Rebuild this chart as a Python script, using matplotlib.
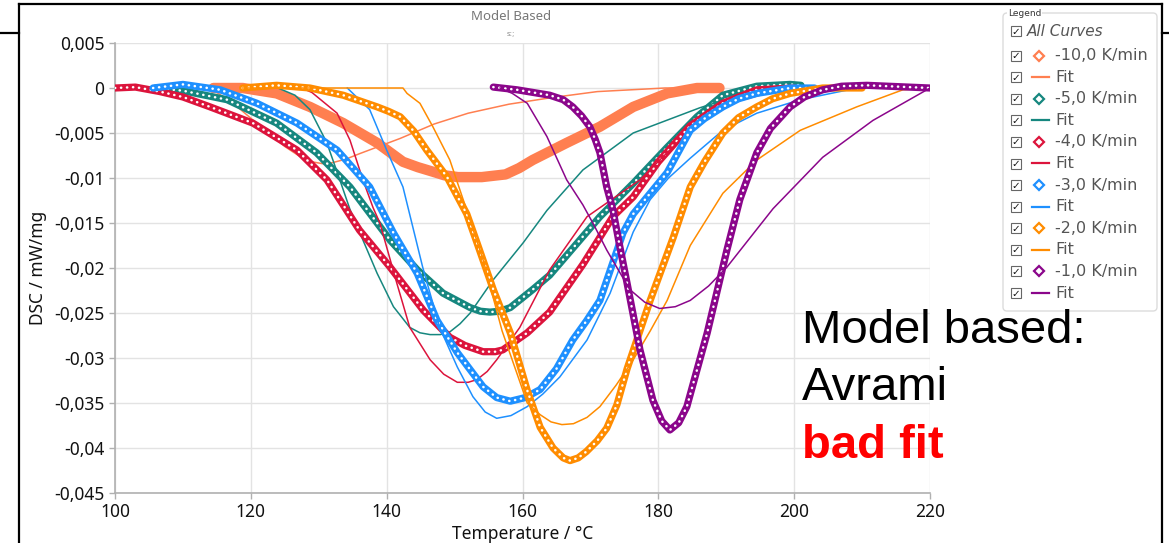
import matplotlib

matplotlib.use("Agg")
import matplotlib.pyplot as plt
from matplotlib.patches import FancyBboxPatch, Rectangle

# --- data (Temperature in °C, DSC in mW/mg) ---
t_10 = [114.5, 118.8, 123.8, 128.7, 133.6, 138.6, 142.4, 144.6, 146.8, 148.5, 150.5, 154.0, 157.5, 159.5, 161.5, 166.5, 171.4, 176.3, 181.3, 185.7, 189.0]
d_10 = [0.0, 0.0, -0.0006, -0.0021, -0.0039, -0.0061, -0.0082, -0.0088, -0.0093, -0.0097, -0.0099, -0.0099, -0.0096, -0.0089, -0.0080, -0.0061, -0.0043, -0.0021, -0.0006, 0.0, 0.0]
t_10_fit = [114.0, 117.4, 121.0, 125.0, 127.0, 129.0, 130.5, 132.0, 134.0, 136.0, 142.0, 147.0, 152.0, 158.0, 164.0, 171.0, 181.0, 189.0]
d_10_fit = [0.0, -0.0017, -0.0040, -0.0065, -0.0075, -0.0082, -0.0084, -0.0083, -0.0079, -0.0073, -0.0056, -0.0040, -0.0028, -0.0018, -0.0011, -0.0004, 0.0, 0.0]

t_5 = [106.0, 110.0, 116.5, 123.8, 129.7, 134.6, 140.5, 144.5, 148.3, 152.3, 153.8, 155.2, 156.7, 158.2, 161.5, 164.0, 171.4, 176.3, 181.3, 185.7, 189.5, 194.5, 199.4, 201.0]
d_5 = [0.0, -0.0003, -0.0013, -0.0039, -0.0072, -0.0110, -0.0169, -0.0202, -0.0228, -0.0244, -0.0248, -0.0249, -0.0248, -0.0244, -0.0224, -0.0208, -0.0143, -0.0106, -0.0066, -0.0032, -0.0008, 0.0002, 0.0004, 0.0003]
t_5_fit = [124.0, 126.5, 128.7, 131.2, 133.1, 134.6, 136.0, 138.6, 141.0, 143.4, 144.9, 146.4, 147.9, 149.3, 150.8, 152.3, 155.7, 160.1, 163.6, 168.9, 176.3, 186.1, 192.0, 200.0]
d_5_fit = [0.0, -0.0008, -0.0024, -0.0061, -0.0102, -0.0135, -0.0160, -0.0206, -0.0243, -0.0266, -0.0272, -0.0274, -0.0274, -0.0271, -0.0262, -0.0250, -0.0213, -0.0172, -0.0136, -0.0091, -0.0050, -0.0022, -0.0008, 0.0]

t_4 = [100.0, 103.0, 106.6, 110.0, 114.0, 120.3, 126.8, 131.2, 136.0, 140.5, 145.4, 149.3, 151.5, 154.2, 156.0, 157.1, 160.7, 164.0, 168.9, 173.3, 176.3, 180.0, 184.7, 189.5, 194.5, 200.0]
d_4 = [0.0, 0.0001, -0.0004, -0.0010, -0.0021, -0.0039, -0.0069, -0.0102, -0.0158, -0.0199, -0.0247, -0.0277, -0.0286, -0.0293, -0.0293, -0.0291, -0.0272, -0.0249, -0.0196, -0.0143, -0.0121, -0.0082, -0.0042, -0.0017, -0.0002, 0.0]
t_4_fit = [127.5, 129.0, 132.7, 134.6, 136.5, 138.0, 139.0, 141.5, 143.4, 146.4, 148.4, 150.4, 152.0, 153.3, 154.8, 156.2, 159.6, 164.0, 169.5, 177.3, 184.2, 190.0, 197.0, 205.0]
d_4_fit = [0.0, -0.0005, -0.0028, -0.0058, -0.0102, -0.0133, -0.0150, -0.0217, -0.0266, -0.0302, -0.0318, -0.0327, -0.0327, -0.0324, -0.0315, -0.0302, -0.0266, -0.0202, -0.0143, -0.0102, -0.0050, -0.0018, -0.0004, 0.0]

t_3 = [105.6, 110.0, 115.5, 120.9, 126.8, 132.7, 137.5, 141.0, 144.5, 147.4, 150.4, 154.2, 156.2, 158.2, 160.4, 162.6, 165.0, 167.4, 169.4, 171.4, 174.8, 176.3, 178.8, 181.3, 184.7, 186.8, 189.5, 191.8, 194.5, 199.4, 203.0]
d_3 = [0.0, 0.0004, -0.0002, -0.0017, -0.0039, -0.0069, -0.0110, -0.0161, -0.0206, -0.0258, -0.0294, -0.0332, -0.0344, -0.0348, -0.0344, -0.0335, -0.0312, -0.0280, -0.0259, -0.0236, -0.0161, -0.0140, -0.0117, -0.0094, -0.0047, -0.0034, -0.0021, -0.0012, -0.0006, 0.0, 0.0]
t_3_fit = [134.2, 137.5, 140.0, 142.4, 145.3, 147.8, 150.4, 152.7, 154.5, 156.2, 158.3, 160.7, 163.0, 165.5, 169.5, 172.9, 176.3, 178.8, 181.5, 184.7, 189.5, 194.5, 200.9, 208.0]
d_3_fit = [0.0, -0.0024, -0.0069, -0.0110, -0.0199, -0.0266, -0.0310, -0.0343, -0.0360, -0.0367, -0.0364, -0.0354, -0.0340, -0.0321, -0.0280, -0.0228, -0.0160, -0.0124, -0.0100, -0.0078, -0.0047, -0.0028, -0.0013, -0.0002]

t_2 = [118.8, 123.8, 128.7, 133.6, 138.6, 140.3, 142.0, 144.0, 145.9, 148.9, 151.8, 153.3, 155.7, 158.2, 160.7, 162.6, 164.5, 166.0, 167.0, 168.2, 169.4, 171.0, 172.4, 173.9, 175.4, 178.8, 182.2, 184.7, 186.8, 189.5, 191.8, 194.5, 196.8, 199.4, 204.2, 210.0]
d_2 = [0.0, 0.0003, 0.0, -0.0008, -0.0021, -0.0026, -0.0032, -0.0048, -0.0069, -0.0099, -0.0140, -0.0172, -0.0224, -0.0272, -0.0336, -0.0377, -0.0400, -0.0411, -0.0414, -0.0411, -0.0404, -0.0392, -0.0378, -0.0352, -0.0312, -0.0236, -0.0166, -0.0110, -0.0082, -0.0050, -0.0033, -0.0021, -0.0012, -0.0006, 0.0, 0.0]
t_2_fit = [118.8, 142.4, 143.0, 144.9, 146.8, 149.3, 151.8, 154.2, 157.0, 160.7, 162.6, 164.2, 165.8, 167.5, 169.5, 171.4, 173.8, 176.3, 178.8, 181.3, 184.7, 189.5, 194.5, 200.9, 209.2, 216.0, 220.0]
d_2_fit = [0.0, 0.0, -0.0006, -0.0017, -0.0043, -0.0080, -0.0136, -0.0191, -0.0270, -0.0350, -0.0363, -0.0371, -0.0374, -0.0373, -0.0366, -0.0354, -0.0330, -0.0302, -0.0270, -0.0236, -0.0175, -0.0117, -0.0080, -0.0047, -0.0021, -0.0002, 0.0]

t_1 = [155.7, 159.2, 164.0, 166.0, 167.4, 168.7, 169.9, 170.7, 171.4, 172.4, 173.3, 174.3, 175.4, 177.3, 179.2, 180.5, 181.7, 183.0, 184.2, 187.2, 190.1, 192.0, 194.5, 196.5, 199.4, 201.5, 204.2, 207.0, 210.7, 220.0]
d_1 = [0.0001, -0.0002, -0.0008, -0.0013, -0.0021, -0.0031, -0.0043, -0.0057, -0.0072, -0.0110, -0.0135, -0.0175, -0.0217, -0.0291, -0.0347, -0.0370, -0.0380, -0.0372, -0.0354, -0.0272, -0.0180, -0.0124, -0.0072, -0.0045, -0.0021, -0.0010, -0.0002, 0.0002, 0.0003, 0.0]
t_1_fit = [156.7, 158.5, 160.7, 163.6, 166.5, 168.9, 170.5, 172.4, 175.8, 178.0, 180.2, 182.5, 184.7, 187.4, 190.1, 196.9, 204.2, 211.6, 220.0]
d_1_fit = [0.0, -0.0006, -0.0017, -0.0054, -0.0102, -0.0130, -0.0152, -0.0180, -0.0224, -0.0238, -0.0245, -0.0243, -0.0236, -0.0220, -0.0199, -0.0134, -0.0077, -0.0036, 0.0]

rates = ["-10,0 K/min", "-5,0 K/min", "-4,0 K/min", "-3,0 K/min", "-2,0 K/min", "-1,0 K/min"]
colors = ["#ff7f50", "#16877f", "#dc143c", "#1e90ff", "#ff8c00", "#8b068b"]

x_ticks = [100, 120, 140, 160, 180, 200, 220]
y_ticks = [0.005, 0, -0.005, -0.01, -0.015, -0.02, -0.025, -0.03, -0.035, -0.04, -0.045]
y_tick_labels = ["0,005", "0", "-0,005", "-0,01", "-0,015", "-0,02", "-0,025", "-0,03", "-0,035", "-0,04", "-0,045"]

series = [
    (t_10, d_10, t_10_fit, d_10_fit),
    (t_5, d_5, t_5_fit, d_5_fit),
    (t_4, d_4, t_4_fit, d_4_fit),
    (t_3, d_3, t_3_fit, d_3_fit),
    (t_2, d_2, t_2_fit, d_2_fit),
    (t_1, d_1, t_1_fit, d_1_fit),
]

W, H = 1169, 543
fig = plt.figure(figsize=(W / 100, H / 100), dpi=100)
fig.patch.set_facecolor("white")

ax = fig.add_axes([115 / W, 1 - 493 / H, 815 / W, 450 / H])
for i, (t, d, tf, df) in enumerate(series):
    c = colors[i]
    if i == 0:
        # -10 K/min: markers so dense they form a solid band
        ax.plot(t, d, color=c, lw=7.5, solid_capstyle="round", solid_joinstyle="round", zorder=2 + 2 * i)
    else:
        ax.plot(t, d, color=c, lw=5.2, solid_capstyle="round", solid_joinstyle="round", zorder=2 + 2 * i)
        ax.plot(t, d, color="white", lw=1.8, linestyle=(0, (0.1, 2.3)), dash_capstyle="round",
                zorder=2 + 2 * i)
    ax.plot(tf, df, color=c, lw=1.1, zorder=3 + 2 * i)

ax.set_xlim(100, 220)
ax.set_ylim(-0.045, 0.005)
ax.set_xticks(x_ticks)
ax.set_yticks(y_ticks)
ax.set_yticklabels(y_tick_labels)
ax.grid(color="#e3e3e3", lw=1)
ax.set_axisbelow(True)
for s in ["top", "right"]:
    ax.spines[s].set_visible(False)
for s in ["left", "bottom"]:
    ax.spines[s].set_color("#b0b0b0")
    ax.spines[s].set_linewidth(1.2)
ax.tick_params(colors="#b0b0b0", labelcolor="#111", labelsize=12.5, length=4, width=1)
for lab in ax.get_xticklabels() + ax.get_yticklabels():
    lab.set_family("Noto Sans")

# overlay in pixel coordinates for frame, titles, legend and note
ov = fig.add_axes([0, 0, 1, 1])
ov.set_xlim(0, W)
ov.set_ylim(H, 0)
ov.axis("off")
ov.patch.set_alpha(0)

# outer frame
ov.plot([19, 1162], [4, 4], color="black", lw=1.6)
ov.plot([19, 19], [4, H], color="black", lw=1.6)
ov.plot([1162, 1162], [4, H], color="black", lw=1.6)
ov.plot([0, 19], [33, 33], color="black", lw=1.6)
ov.plot([1162, W], [33, 33], color="black", lw=1.6)

ov.text(511, 16, "Model Based", ha="center", va="center", fontsize=9.5, color="#777777", family="Noto Sans")
ov.text(511, 34, "s:;", ha="center", va="center", fontsize=5, color="#888888", family="DejaVu Sans")
ov.text(38, 268, "DSC / mW/mg", rotation=90, ha="center", va="center", fontsize=12.5, color="#111",
        family="Noto Sans")
ov.text(523, 534, "Temperature / °C", ha="center", va="center", fontsize=12.5, color="#111", family="Noto Sans")

# legend panel
ov.add_patch(FancyBboxPatch((1003, 13), 154, 298, boxstyle="round,pad=0,rounding_size=4",
                            facecolor="white", edgecolor="#dcdcdc", lw=1))
ov.text(1008, 13, "Legend", ha="left", va="center", fontsize=6.5, color="#333",
        family="DejaVu Sans", bbox=dict(facecolor="white", edgecolor="none", pad=0.5))


def checkbox(y):
    ov.add_patch(Rectangle((1011, y - 5), 10, 10, facecolor="white", edgecolor="#666", lw=0.8))
    ov.text(1016, y + 0.5, "\u2713", ha="center", va="center", fontsize=7.5, color="#111",
            family="DejaVu Sans", fontweight="bold")


checkbox(31)
ov.text(1027, 31, "All Curves", ha="left", va="center", fontsize=11, color="#555",
        style="italic", family="DejaVu Sans")
row_y = 55.5
for i, name in enumerate(rates):
    c = colors[i]
    checkbox(row_y)
    ov.plot([1039], [row_y], marker="D", ms=5, mfc="white", mec=c, mew=1.6)
    ov.text(1055, row_y, name, ha="left", va="center", fontsize=11.5, color="#555", family="DejaVu Sans")
    row_y += 21.6
    checkbox(row_y)
    ov.plot([1032, 1049], [row_y, row_y], color=c, lw=1.6)
    ov.text(1055, row_y, "Fit", ha="left", va="center", fontsize=11.5, color="#555", family="DejaVu Sans")
    row_y += 21.6

# annotation
note_font = "Liberation Sans"
ov.text(802, 343, "Model based:", ha="left", va="baseline", fontsize=34, color="black", family=note_font)
ov.text(802, 400, "Avrami", ha="left", va="baseline", fontsize=34, color="black", family=note_font)
ov.text(802, 458, "bad fit", ha="left", va="baseline", fontsize=34, color="#ff0000",
        fontweight="bold", family=note_font)

fig.savefig("out.png", dpi=100)
